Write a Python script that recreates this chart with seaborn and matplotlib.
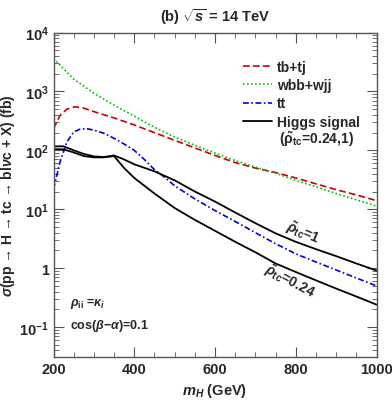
import numpy as np
import pandas as pd
import seaborn as sns
import matplotlib.pyplot as plt
import matplotlib.ticker as ticker


sns.set_style('ticks')
plt.rcParams['font.family'] = ['Liberation Sans', 'DejaVu Sans']
plt.rcParams['font.weight'] = 'bold'
plt.rcParams['mathtext.fontset'] = 'custom'
plt.rcParams['mathtext.rm'] = 'Liberation Sans:bold'
plt.rcParams['mathtext.bf'] = 'Liberation Sans:bold'
plt.rcParams['mathtext.it'] = 'Liberation Sans:bold:italic'
plt.rcParams['mathtext.default'] = 'rm'


# valores (fb)
mh_tbtj = [200, 216, 233, 253, 275, 300, 350, 400, 450, 500, 550, 600, 650, 700, 750, 800, 850, 900, 950, 1000]
xs_tbtj = [234, 390, 500, 550, 520, 455, 355, 270, 200, 148, 110, 82, 62, 50, 42, 34, 27, 21.5, 17.5, 14]

mh_wbb = [200, 225, 250, 275, 300, 350, 400, 450, 500, 550, 600, 650, 700, 750, 800, 850, 900, 950, 1000]
xs_wbb = [3640, 2420, 1620, 1230, 930, 586, 380, 247, 168, 122, 90, 67, 52, 41, 31, 24, 18.5, 14.5, 11.3]

mh_tt = [200, 216, 233, 250, 265, 282, 300, 325, 350, 375, 400, 425, 450, 475, 500, 550, 600, 650, 700, 750, 800, 850, 900, 950, 1000]
xs_tt = [22, 63, 138, 205, 228, 234, 220, 195, 160, 128, 100, 70, 47, 35, 25, 15, 9.5, 6.2, 4.0, 2.6, 1.75, 1.27, 0.93, 0.68, 0.5]

mh_sig = [200, 225, 250, 275, 300, 325, 350, 375, 400, 450, 500, 550, 600, 650, 700, 750, 800, 850, 900, 950, 1000]
xs_sig_1 = [117, 117, 100, 87, 79, 77, 82, 70, 58, 44, 31, 20, 13.5, 8.8, 5.8, 3.9, 2.8, 2.1, 1.6, 1.2, 0.91]
xs_sig_024 = [105, 104, 92, 80, 76, 76, 80, 50, 34, 18.5, 10.5, 6.6, 4.3, 2.8, 1.86, 1.2, 0.86, 0.62, 0.45, 0.33, 0.24]

legend_labels = ['tb+tj', 'wbb+wjj', 'tt', 'Higgs signal']
y_ticks = [0.1, 1, 10, 100, 1000, 10000]
y_ticklabels = [r'$10^{-1}$', '1', r'$10^{1}$', r'$10^{2}$', r'$10^{3}$', r'$10^{4}$']


fig = plt.figure(figsize=(3.92, 4.02), dpi=100)
ax = fig.add_axes([0.1365, 0.1095, 0.824, 0.807])

l1 = sns.lineplot(x=mh_tbtj, y=xs_tbtj, ax=ax, color='#cc0000', lw=1.2).lines[-1]
l1.set_dashes((4, 2))
l2 = sns.lineplot(x=mh_wbb, y=xs_wbb, ax=ax, color='#00c000', lw=1.2).lines[-1]
l2.set_dashes((1, 1.4))
l3 = sns.lineplot(x=mh_tt, y=xs_tt, ax=ax, color='#0000e0', lw=1.2).lines[-1]
l3.set_dashes((3.5, 1.5, 1, 1.5))
l4 = sns.lineplot(x=mh_sig, y=xs_sig_1, ax=ax, color='black', lw=1.3).lines[-1]
sns.lineplot(x=mh_sig, y=xs_sig_024, ax=ax, color='black', lw=1.3)

ax.set_yscale('log')
ax.set_xlim(200, 1000)
ax.set_ylim(0.031, 1e4)
ax.set_xticks([200, 400, 600, 800, 1000])
ax.xaxis.set_minor_locator(ticker.MultipleLocator(50))
ax.set_yticks(y_ticks)
ax.set_yticklabels(y_ticklabels)
ax.yaxis.set_minor_locator(ticker.LogLocator(base=10, subs=np.arange(2, 10)))
ax.yaxis.set_minor_formatter(ticker.NullFormatter())
ax.tick_params(which='both', direction='in', top=True, right=True, labelsize=10.5, color='#555555')
ax.tick_params(which='major', length=7, width=0.8)
ax.tick_params(which='minor', length=3.5, width=0.6)
for s in ax.spines.values():
    s.set_color('#555555')
    s.set_linewidth(1.0)

ax.set_xlabel(r'$\mathit{m_H}$ (GeV)', fontsize=10.5, fontweight='bold', labelpad=4)
ax.set_ylabel(r'$\mathit{\sigma}$(pp → H → tc → bl$\mathit{\nu}$c + X) (fb)', fontsize=10, fontweight='bold')
ax.yaxis.set_label_coords(-0.112, 0.5)
ax.set_title(r'(b) $\sqrt{\mathit{s}}$ = 14 TeV', fontsize=10.5, fontweight='bold', pad=8)

ax.legend([l1, l2, l3, l4], legend_labels, loc='upper right', bbox_to_anchor=(0.978, 0.945), frameon=False,
          fontsize=10, handlelength=2.1, handletextpad=0.35, labelspacing=0.3, borderaxespad=0.3)
ax.text(0.698, 0.675, r'($\tilde{\rho}_{\rm tc}$=0.24,1)', transform=ax.transAxes, ha='left', va='center',
        fontsize=10, fontweight='bold')

ax.text(819, 4.1, r'$\tilde{\mathit{\rho}}_{\rm tc}$=1', rotation=-23, ha='center', va='center', fontsize=10, fontweight='bold')
ax.text(784, 0.62, r'$\tilde{\mathit{\rho}}_{\rm tc}$=0.24', rotation=-28, ha='center', va='center', fontsize=10, fontweight='bold')

ax.text(240, 0.26, r'$\mathit{\rho}_{\rm ii}$ =$\mathit{\kappa_i}$', fontsize=9, fontweight='bold', va='center')
ax.text(240, 0.107, r'cos($\mathit{\beta}$−$\mathit{\alpha}$)=0.1', fontsize=9, fontweight='bold', va='center')

plt.savefig('out.png', dpi=100)
